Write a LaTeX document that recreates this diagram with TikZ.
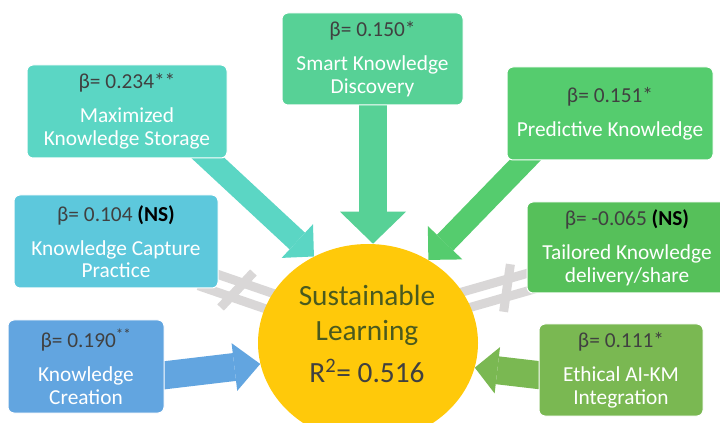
\documentclass[tikz,border=0pt]{standalone}
\usepackage{fontspec}
\setmainfont{Carlito}
\usetikzlibrary{shapes.geometric,arrows.meta,backgrounds}
\definecolor{cStore}{HTML}{5BD6C4}
\definecolor{cSmart}{HTML}{57D196}
\definecolor{cPred}{HTML}{55CC6E}
\definecolor{cCapt}{HTML}{5DC8DC}
\definecolor{cTail}{HTML}{56C05A}
\definecolor{cCrea}{HTML}{62A5E0}
\definecolor{cEthi}{HTML}{7AB852}
\definecolor{cSun}{HTML}{FFC90A}
\definecolor{cGray}{HTML}{D9D7D7}
\definecolor{betagray}{HTML}{404040}
\definecolor{cOlive}{HTML}{4A5A1E}
\newcommand{\betatxt}[1]{\textcolor{betagray}{#1}}
\begin{document}
\begin{tikzpicture}[x=0.75pt,y=-0.75pt,
  box/.style={draw=white, line width=0.75pt, rounded corners=4.5pt, text=white,
    align=center, font=\fontsize{16}{17}\selectfont, inner sep=0pt},
  blk/.style n args={4}{draw=#1, line width=#2,
    -{Triangle[width=#3, length=#4, line width=0pt]}},
  neq/.style={fill=cGray},
  slash/.style={draw=cGray, line width=6.75pt}
]
\useasboundingbox (0,0) rectangle (720,423);

% central ellipse
\node[ellipse, fill=cSun, minimum width=165pt, minimum height=148.5pt, inner sep=0pt] (SL) at (368,343) {};
\node[align=center, font=\fontsize{22}{26.25}\selectfont, text=cOlive, inner sep=0pt] (SLt) at (367,334)
  {Sustainable\\Learning\\[5.25pt]\textcolor{betagray}{R\textsuperscript{2}= 0.516}};

% boxes
\node[box, fill=cStore, minimum width=150pt, minimum height=69.75pt] (MKS) at (127,111.5)
  {\betatxt{β= 0.234**}\\[8.5pt]Maximized\\Knowledge Storage};
\node[box, fill=cSmart, minimum width=135.75pt, minimum height=69pt] (SKD) at (372.5,59)
  {\betatxt{β= 0.150*}\\[8.5pt]Smart Knowledge\\Discovery};
\node[box, fill=cPred, minimum width=154.5pt, minimum height=69.75pt] (PK) at (610,113.5)
  {\betatxt{β= 0.151*}\\[8.5pt]Predictive Knowledge};
\node[box, fill=cCapt, minimum width=153pt, minimum height=69.75pt] (KCP) at (116,241.5)
  {\betatxt{β= 0.104 }\textcolor{black}{\textbf{(NS)}}\\[8.5pt]Knowledge Capture\\Practice};
\node[box, fill=cTail, minimum width=150pt, minimum height=68.25pt] (TKD) at (627,247.5)
  {\betatxt{β= -0.065 }\textcolor{black}{\textbf{(NS)}}\\[8.5pt]Tailored Knowledge\\delivery/share};
\node[box, fill=cCrea, minimum width=117pt, minimum height=69.75pt] (KC) at (86,366.5)
  {\betatxt{β= 0.190\textsuperscript{**}}\\[8.5pt]Knowledge\\Creation};
\node[box, fill=cEthi, minimum width=123pt, minimum height=69pt] (EAI) at (621,370)
  {\betatxt{β= 0.111*}\\[8.5pt]Ethical AI-KM\\Integration};

\begin{pgfonlayer}{background}
  \fill[white] (0,0) rectangle (720,423);
  % not-equal shapes
  \begin{scope}[shift={(237,290)}, rotate=-19]
    \fill[neq] (-38,-13) rectangle (45,-4);
    \fill[neq] (-38,4) rectangle (45,13);
    \draw[slash] (9.8,-21.9) -- (-9.8,21.9);
  \end{scope}
  \begin{scope}[shift={(507,288)}, rotate=16]
    \fill[neq] (-50,-13) rectangle (40,-4);
    \fill[neq] (-50,4) rectangle (40,13);
    \draw[slash] (9.8,-21.9) -- (-9.8,21.9);
  \end{scope}
  % block arrows
  \coordinate (a1s) at (195,146);
  \coordinate (a2s) at (373,95);
  \coordinate (a3s) at (535,150);
  \coordinate (a4s) at (150,377);
  \coordinate (a5s) at (555,377);
  \draw[blk={cStore}{17pt}{34.5pt}{17pt}] (a1s) -- (SL.122.6);
  \draw[blk={cSmart}{21pt}{49.5pt}{24pt}] (a2s) -- (a2s |- SL.north);
  \draw[blk={cPred}{17pt}{36pt}{18pt}] (a3s) -- (SL.54.8);
  \draw[blk={cCrea}{21pt}{36pt}{19.5pt}] (a4s) -- (SL.191.7);
  \draw[blk={cEthi}{21pt}{35pt}{17pt}] (a5s) -- (SL.347.1);
\end{pgfonlayer}
\end{tikzpicture}
\end{document}
